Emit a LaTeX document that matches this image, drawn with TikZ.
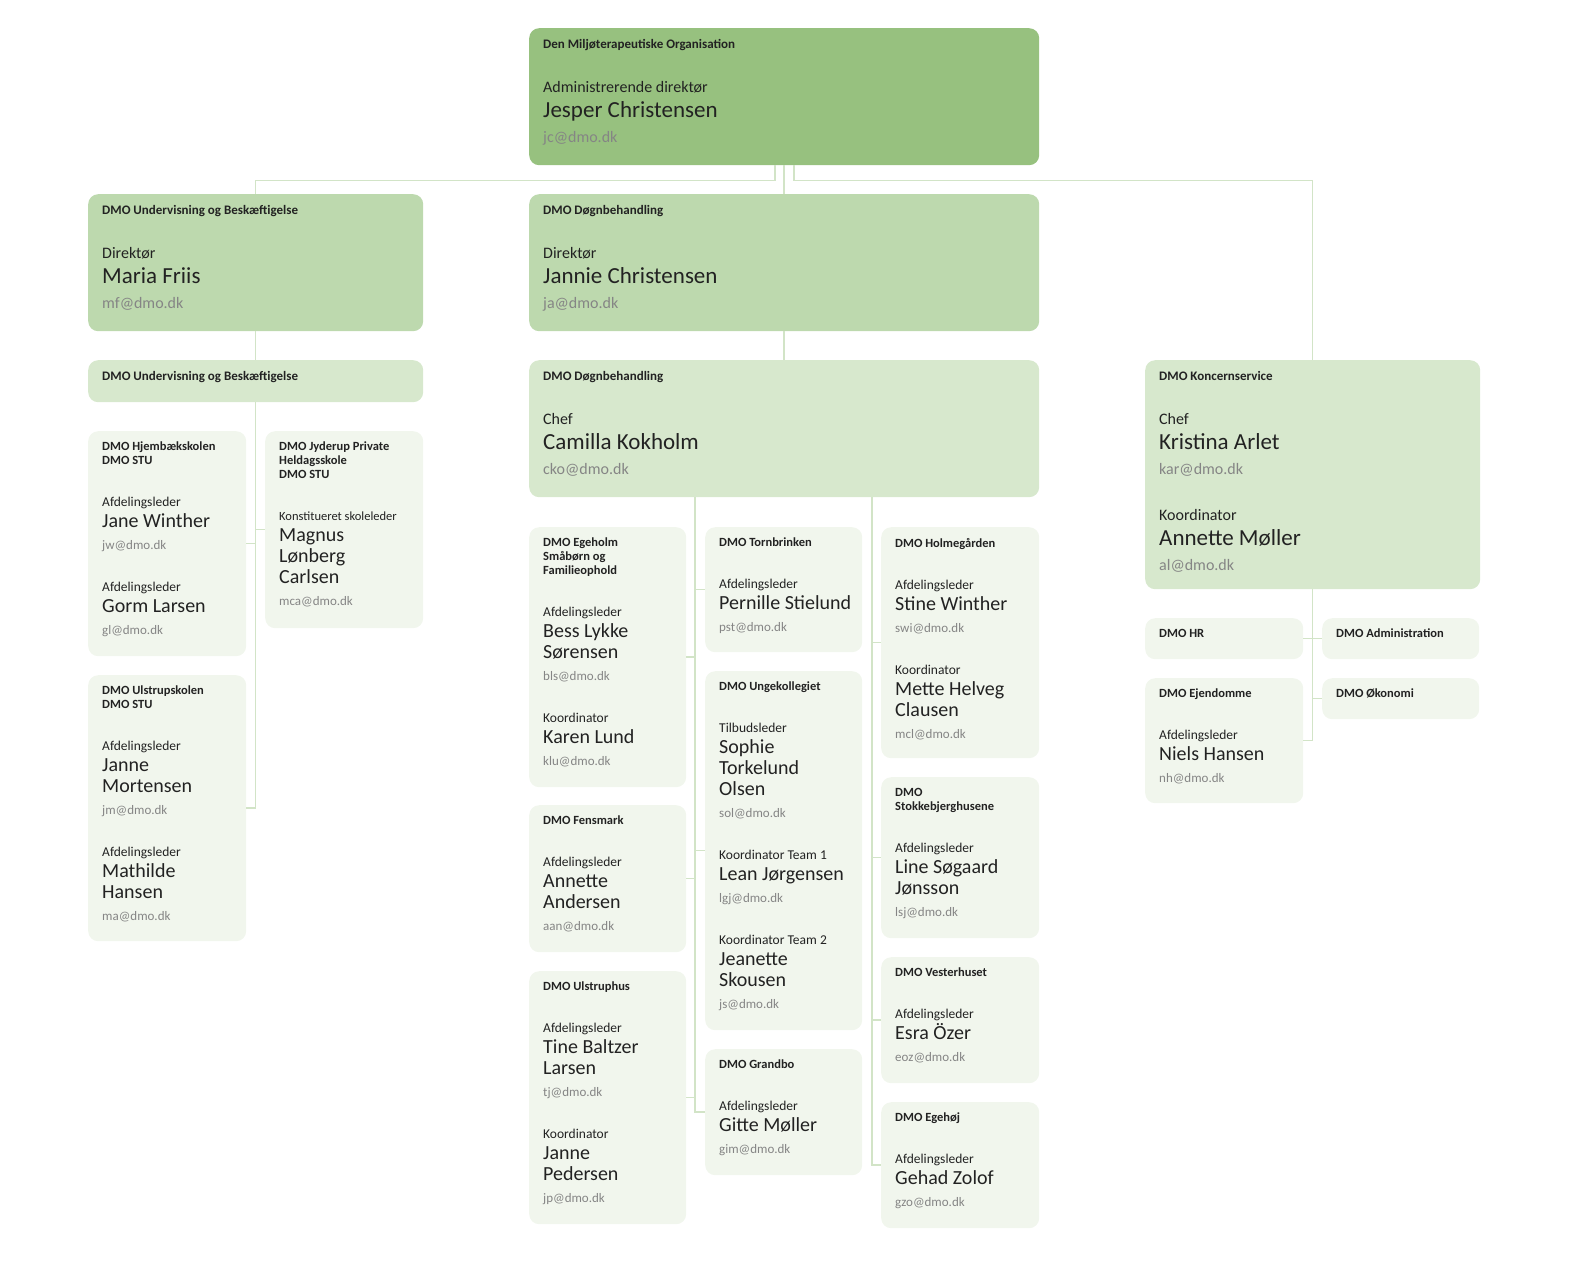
\documentclass[tikz,border=0pt]{standalone}
\usepackage{fontspec}
\setmainfont{Carlito}
\usetikzlibrary{positioning}
\definecolor{lvlA}{HTML}{97C17F}
\definecolor{lvlB}{HTML}{BDD9AE}
\definecolor{lvlC}{HTML}{D7E8CD}
\definecolor{lvlD}{HTML}{F1F6ED}
\definecolor{linec}{HTML}{D2E4C7}
\definecolor{mailc}{HTML}{858585}
\definecolor{inkc}{HTML}{222222}
\tikzset{box/.style={draw=none, rounded corners=10pt, inner sep=0pt, anchor=north west},
  txt/.style={inner sep=0pt, anchor=north west, text=inkc},
  conn/.style={draw=linec, line width=1.5pt}}
% small boxes
\newcommand\ttl[1]{{\fontsize{12.5}{14}\selectfont\bfseries #1\par}}
\newcommand\rol[1]{\vspace{26pt}{\fontsize{13.5}{16}\selectfont #1\par}}
\newcommand\nam[1]{{\fontsize{20}{21}\selectfont #1\par}}
\newcommand\eml[1]{{\fontsize{13}{22}\selectfont\color{mailc}#1\par}}
% big boxes
\newcommand\ttlB[1]{{\fontsize{13}{14}\selectfont\bfseries #1\par}}
\newcommand\rolB[1]{\vspace{25pt}{\fontsize{16}{19}\selectfont #1\par}}
\newcommand\namB[1]{{\fontsize{23}{25}\selectfont #1\par}}
\newcommand\emlB[1]{{\fontsize{16}{25}\selectfont\color{mailc}#1\par}}
\newcommand\orgbox[7]{%
  \node[box, fill=#6, minimum width=#4, minimum height=#5] (#1) at (#2,-#3) {};
  \node[txt] (#1-t) at (#2+14,-#3-11) {\parbox[t]{\dimexpr #4pt-20pt\relax}{\raggedright #7}};}
\begin{document}
\begin{tikzpicture}[x=1pt,y=1pt]
  \useasboundingbox (0,0) rectangle (1580,-1267);

  % top levels
  \orgbox{top}{529}{28}{510}{137}{lvlA}{\ttlB{Den Miljøterapeutiske Organisation}\rolB{Administrerende direktør}\namB{Jesper Christensen}\emlB{jc@dmo.dk}}
  \orgbox{und}{88}{194}{335}{137}{lvlB}{\ttlB{DMO Undervisning og Beskæftigelse}\rolB{Direktør}\namB{Maria Friis}\emlB{mf@dmo.dk}}
  \orgbox{dogn}{529}{194}{510}{137}{lvlB}{\ttlB{DMO Døgnbehandling}\rolB{Direktør}\namB{Jannie Christensen}\emlB{ja@dmo.dk}}
  \orgbox{und3}{88}{360}{335}{42}{lvlC}{\ttlB{DMO Undervisning og Beskæftigelse}}
  \orgbox{dogn3}{529}{360}{510}{137}{lvlC}{\ttlB{DMO Døgnbehandling}\rolB{Chef}\namB{Camilla Kokholm}\emlB{cko@dmo.dk}}
  \orgbox{kon}{1145}{360}{335}{229}{lvlC}{\ttlB{DMO Koncernservice}\rolB{Chef}\namB{Kristina Arlet}\emlB{kar@dmo.dk}\vspace{2pt}\rolB{Koordinator}\namB{Annette Møller}\emlB{al@dmo.dk}}

  % undervisning
  \orgbox{hjem}{88}{431}{158}{225}{lvlD}{\ttl{DMO Hjembækskolen\\DMO STU}\rol{Afdelingsleder}\nam{Jane Winther}\eml{jw@dmo.dk}\rol{Afdelingsleder}\nam{Gorm Larsen}\eml{gl@dmo.dk}}
  \orgbox{jyd}{265}{431}{158}{197}{lvlD}{\ttl{DMO Jyderup Private\\Heldagsskole\\DMO STU}\rol{\fontsize{12.5}{16}\selectfont Konstitueret skoleleder}\nam{Magnus\\Lønberg\\Carlsen}\eml{mca@dmo.dk}}
  \orgbox{ulst}{88}{675}{158}{266}{lvlD}{\ttl{DMO Ulstrupskolen\\DMO STU}\rol{Afdelingsleder}\nam{Janne\\Mortensen}\eml{jm@dmo.dk}\rol{Afdelingsleder}\nam{Mathilde\\Hansen}\eml{ma@dmo.dk}}

  % døgnbehandling
  \orgbox{egeh}{529}{527}{157}{260}{lvlD}{\ttl{DMO Egeholm\\Småbørn og\\Familieophold}\rol{Afdelingsleder}\nam{Bess Lykke\\Sørensen}\eml{bls@dmo.dk}\rol{Koordinator}\nam{Karen Lund}\eml{klu@dmo.dk}}
  \orgbox{fens}{529}{805}{157}{147}{lvlD}{\ttl{DMO Fensmark}\rol{Afdelingsleder}\nam{Annette\\Andersen}\eml{aan@dmo.dk}}
  \orgbox{ulsh}{529}{971}{157}{253}{lvlD}{\ttl{DMO Ulstruphus}\rol{Afdelingsleder}\nam{Tine Baltzer\\Larsen}\eml{tj@dmo.dk}\rol{Koordinator}\nam{Janne\\Pedersen}\eml{jp@dmo.dk}}
  \orgbox{torn}{705}{527}{157}{125}{lvlD}{\ttl{DMO Tornbrinken}\rol{Afdelingsleder}\nam{Pernille Stielund}\eml{pst@dmo.dk}}
  \orgbox{unge}{705}{671}{157}{359}{lvlD}{\ttl{DMO Ungekollegiet}\rol{Tilbudsleder}\nam{Sophie\\Torkelund\\Olsen}\eml{sol@dmo.dk}\rol{Koordinator Team 1}\nam{Lean Jørgensen}\eml{lgj@dmo.dk}\rol{Koordinator Team 2}\nam{Jeanette\\Skousen}\eml{js@dmo.dk}}
  \orgbox{gran}{705}{1049}{157}{126}{lvlD}{\ttl{DMO Grandbo}\rol{Afdelingsleder}\nam{Gitte Møller}\eml{gim@dmo.dk}}
  \orgbox{holm}{881}{527}{158}{231}{lvlD}{\ttl{DMO Holmegården}\rol{Afdelingsleder}\nam{Stine Winther}\eml{swi@dmo.dk}\rol{Koordinator}\nam{Mette Helveg\\Clausen}\eml{mcl@dmo.dk}}
  \orgbox{stok}{881}{777}{158}{161}{lvlD}{\ttl{DMO\\Stokkebjerghusene}\rol{Afdelingsleder}\nam{Line Søgaard\\Jønsson}\eml{lsj@dmo.dk}}
  \orgbox{vest}{881}{957}{158}{126}{lvlD}{\ttl{DMO Vesterhuset}\rol{Afdelingsleder}\nam{Esra Özer}\eml{eoz@dmo.dk}}
  \orgbox{egho}{881}{1102}{158}{126}{lvlD}{\ttl{DMO Egehøj}\rol{Afdelingsleder}\nam{Gehad Zolof}\eml{gzo@dmo.dk}}

  % koncernservice
  \orgbox{hr}{1145}{618}{158}{41}{lvlD}{\ttl{DMO HR}}
  \orgbox{adm}{1322}{618}{157}{41}{lvlD}{\ttl{DMO Administration}}
  \orgbox{ejd}{1145}{678}{158}{125}{lvlD}{\ttl{DMO Ejendomme}\rol{Afdelingsleder}\nam{Niels Hansen}\eml{nh@dmo.dk}}
  \orgbox{oko}{1322}{678}{157}{41}{lvlD}{\ttl{DMO Økonomi}}

  % connectors
  \draw[conn] ([xshift=-9]top.south) -- ++(0,-15) -| (und.north);
  \draw[conn] (top.south) -- (dogn.north);
  \draw[conn] ([xshift=10]top.south) -- ++(0,-15) -| (kon.north);
  \draw[conn] (und.south) -- (und3.north);
  \draw[conn] (dogn.south) -- (dogn3.north);
  \draw[conn] (und3.south) |- (hjem.east);
  \draw[conn] (und3.south) |- (jyd.west);
  \draw[conn] (und3.south) |- (ulst.east);
  \coordinate (m1) at (695,-497);
  \coordinate (m2) at (872,-497);
  \foreach \b in {egeh,fens,ulsh} \draw[conn] (m1) |- (\b.east);
  \foreach \b in {torn,unge,gran} \draw[conn] (m1) |- (\b.west);
  \foreach \b in {holm,stok,vest,egho} \draw[conn] (m2) |- (\b.west);
  \draw[conn] (kon.south) |- (hr.east);
  \draw[conn] (kon.south) |- (ejd.east);
  \draw[conn] (kon.south) |- (adm.west);
  \draw[conn] (kon.south) |- (oko.west);
\end{tikzpicture}
\end{document}
